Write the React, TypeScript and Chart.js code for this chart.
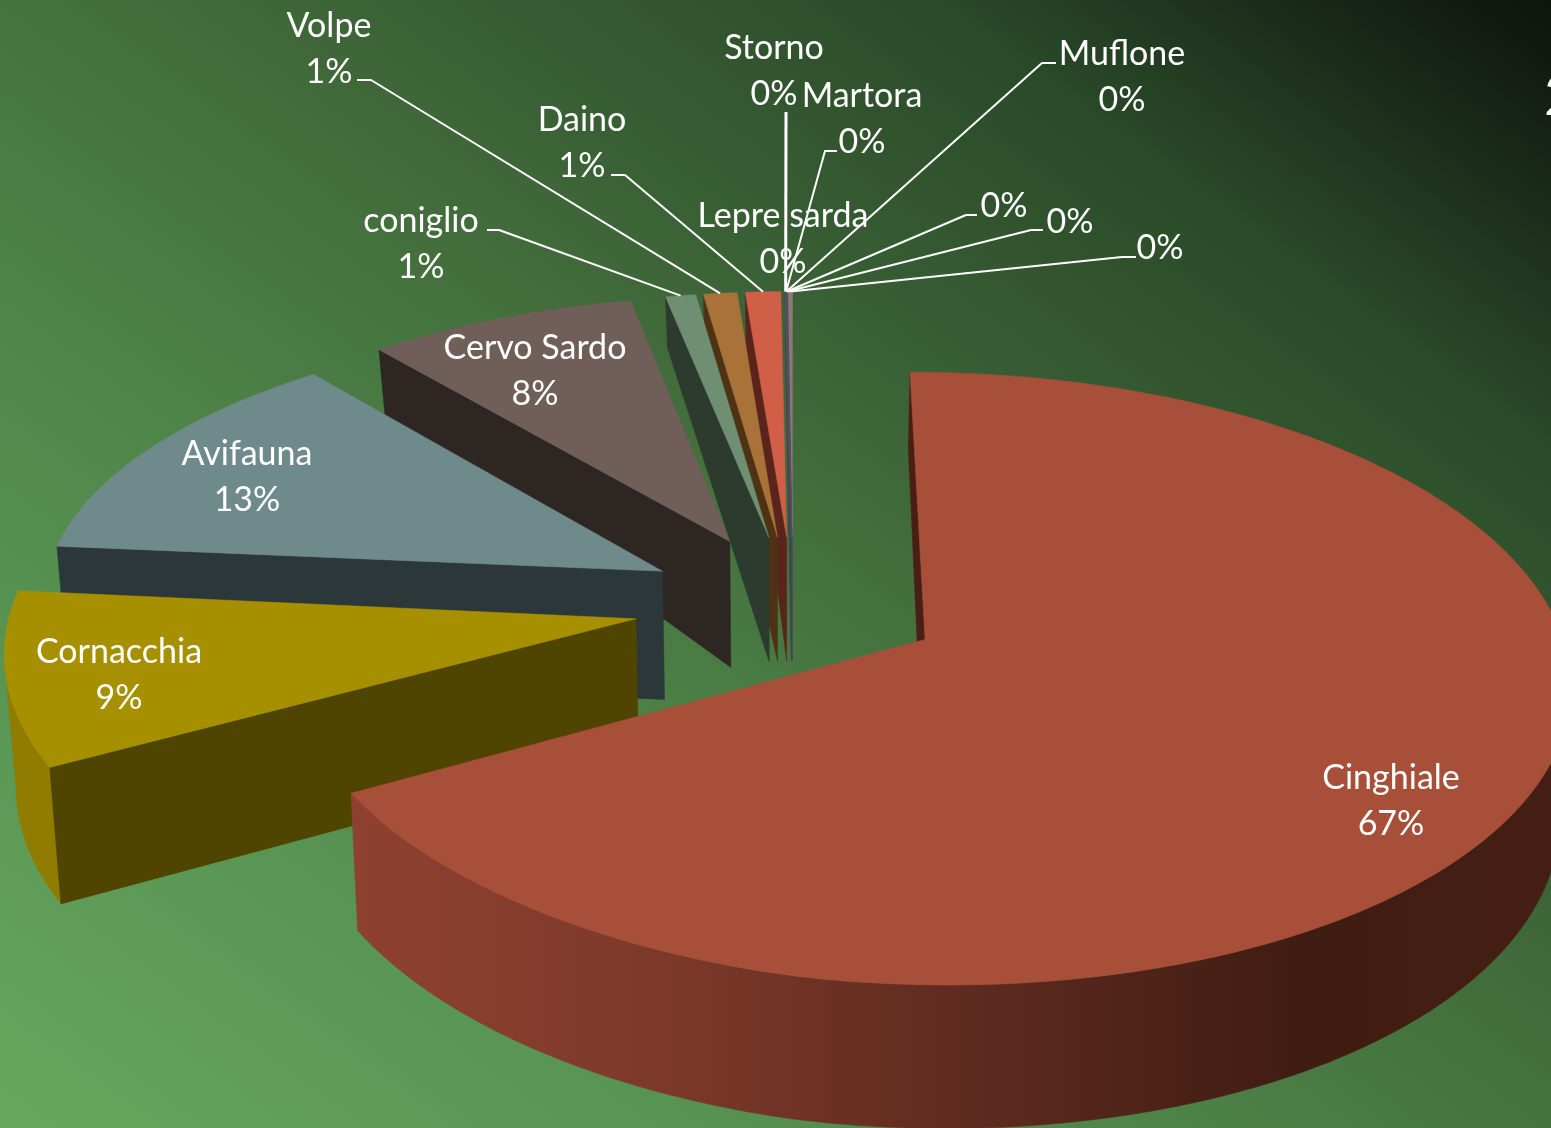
import React, { useEffect, useRef } from "react";
import { Chart, registerables } from "chart.js";

Chart.register(...registerables);

const names = ["Cinghiale", "Cornacchia", "Avifauna", "Cervo Sardo", "coniglio", "Volpe", "Daino", "Lepre sarda", "Storno", "Martora", "Muflone", "", "", ""];
const values = [66.6, 9.3, 13, 8, 0.9, 1.0, 1.05, 0.01, 0.01, 0.01, 0.01, 0.01, 0.01, 0.13];
const explosions = [0.24, 0.257, 0.237, 0.24, 0.237, 0.237, 0.237, 0.237, 0.237, 0.237, 0.237, 0.237, 0.237, 0.237];
const topColors = ["#A84F39", "#A69000", "#6F8A8B", "#6F5F58", "#6E8F72", "#A87238", "#CF5F47", "#556", "#556", "#556", "#556", "#556", "#556", "#8A7A72"];
const faceColors = ["#4A1E14", "#4F4400", "#2C373A", "#2D2622", "#2D3A2E", "#4D3314", "#5A241C", "#445", "#445", "#445", "#445", "#445", "#445", "#47584C"];
const wallStops: [number, string][][] = [
  [[0, "#8F4131"], [0.25, "#7C392A"], [0.55, "#5A281D"], [0.78, "#3F1C12"], [1, "#451F14"]],
  [[0, "#8F7C00"], [1, "#8F7C00"]],
];

// label layout: centre x, first-line centre y; leader is a list of fixed elbow points
const labelLayout: { x: number; y: number; elbow?: [number, number][]; w?: number }[] = [
  { x: 1391, y: 778 },
  { x: 119, y: 652 },
  { x: 247, y: 454 },
  { x: 535, y: 348 },
  { x: 421, y: 221, elbow: [[487, 230], [499, 230]] },
  { x: 329, y: 26, elbow: [[357, 80], [371, 80]] },
  { x: 582, y: 120, elbow: [[611, 175], [625, 175]] },
  { x: 783, y: 216 },
  { x: 774, y: 48, elbow: [[786, 112]], w: 3 },
  { x: 862, y: 96, elbow: [[837, 151], [825, 151]] },
  { x: 1122, y: 54, elbow: [[1056, 63], [1042, 63]] },
  { x: 1004, y: 206, elbow: [[977, 215], [966, 215]] },
  { x: 1070, y: 222, elbow: [[1043, 230], [1031, 230]] },
  { x: 1160, y: 248, elbow: [[1136, 257], [1122, 257]] },
];
const FONT = '34px Lato, "Open Sans", sans-serif';
const LINE_GAP = 46;

// projection of the pie plane
const CX = 793, CY = 604, BX = 624, AY = 292, PERSP = 0.126, SKEW = 0.005, ROLL = 12;

const depth = (wy: number) => (wy >= -0.2 ? 127 + (wy + 0.2) * 12.5 : Math.max(40, 127 + (wy + 0.2) * 75));
const project = (wx: number, wy: number, low: boolean): [number, number] => {
  const s = 1 / (1 - PERSP * wy - SKEW * wx);
  let x = CX + BX * wx * s;
  let y = CY + AY * wy * s + ROLL * Math.min(wx, 0) * Math.max(0, Math.min(1, 1 + wy));
  if (low) {
    y += depth(wy);
    x = CX + (x - CX) * 0.985;
  }
  return [x, y];
};

function poly(ctx: CanvasRenderingContext2D, pts: [number, number][], fill: string | CanvasGradient) {
  ctx.beginPath();
  pts.forEach((p, i) => (i ? ctx.lineTo(p[0], p[1]) : ctx.moveTo(p[0], p[1])));
  ctx.closePath();
  ctx.fillStyle = fill;
  ctx.strokeStyle = fill;
  ctx.lineWidth = 0.5;
  ctx.fill();
  ctx.stroke();
}

function sliceGeom(arc: any, i: number) {
  const a0 = arc.startAngle + Math.PI / 2;
  const a1 = arc.endAngle + Math.PI / 2;
  const mid = (a0 + a1) / 2;
  const ox = Math.sin(mid) * explosions[i];
  const oy = -Math.cos(mid) * explosions[i];
  const at = (a: number): [number, number] => [ox + Math.sin(a), oy - Math.cos(a)];
  return { a0, a1, mid, ox, oy, at };
}

const pie3d = {
  id: "pie3d",
  beforeDraw(chart: any) {
    const { ctx, width: W, height: H } = chart;
    const len = Math.hypot(W, H);
    const L = (W * H) / len;
    const dx = (H / len) * L;
    const dy = (-W / len) * L;
    const g = ctx.createLinearGradient(W / 2 - dx, H / 2 - dy, W / 2 + dx, H / 2 + dy);
    g.addColorStop(0, "#65A75B");
    g.addColorStop(0.13, "#5E9C58");
    g.addColorStop(0.35, "#4F874A");
    g.addColorStop(0.55, "#426C3B");
    g.addColorStop(0.63, "#3A6035");
    g.addColorStop(0.8, "#2A4A28");
    g.addColorStop(0.95, "#152015");
    g.addColorStop(1, "#0D140C");
    ctx.fillStyle = g;
    ctx.fillRect(0, 0, W, H);
  },
  beforeDatasetDraw(chart: any) {
    const { ctx } = chart;
    const arcs = chart.getDatasetMeta(0).data;
    const view = 1 / PERSP;
    for (let i = arcs.length - 1; i >= 0; i--) {
      const { a0, a1, ox, oy, at } = sliceGeom(arcs[i], i);
      const steps = Math.max(2, Math.ceil((a1 - a0) / 0.01));
      const rim: [number, number][] = [];
      for (let k = 0; k <= steps; k++) {
        const a = a0 + ((a1 - a0) * k) / steps;
        rim.push(at(a));
      }
      // outer wall, only the part turned towards the viewer
      const visible: number[] = [];
      for (let k = 0; k <= steps; k++) {
        const a = a0 + ((a1 - a0) * k) / steps;
        const [wx, wy] = rim[k];
        const d = Math.sin(a) * (0 - wx) + -Math.cos(a) * (view - wy);
        if (d > 0) visible.push(k);
      }
      if (visible.length > 1) {
        const top = visible.map((k) => project(rim[k][0], rim[k][1], false));
        const low = visible.map((k) => project(rim[k][0], rim[k][1], true));
        let fill: string | CanvasGradient = topColors[i];
        const stops = wallStops[i];
        if (stops) {
          const xs = top.map((p) => p[0]);
          const g = ctx.createLinearGradient(Math.min(...xs), 0, Math.max(...xs), 0);
          stops.forEach(([t, c]) => g.addColorStop(t, c));
          fill = g;
        }
        poly(ctx, [...top, ...low.reverse()], fill);
      }
      // cut faces
      const apexT = project(ox, oy, false);
      const apexB = project(ox, oy, true);
      [
        { a: a0, nx: -Math.cos(a0), ny: -Math.sin(a0) },
        { a: a1, nx: Math.cos(a1), ny: Math.sin(a1) },
      ].forEach(({ a, nx, ny }) => {
        const d = nx * (0 - ox) + ny * (view - oy);
        if (d <= 0) return;
        const [wx, wy] = at(a);
        poly(ctx, [apexT, project(wx, wy, false), project(wx, wy, true), apexB], faceColors[i]);
      });
      // top surface
      poly(ctx, [apexT, ...rim.map((p) => project(p[0], p[1], false))], topColors[i]);
    }
    return false;
  },
  afterDatasetsDraw(chart: any) {
    const { ctx } = chart;
    const arcs = chart.getDatasetMeta(0).data;
    const total = values.reduce((a, b) => a + b, 0);
    ctx.save();
    ctx.strokeStyle = "#FFFFFF";
    ctx.lineJoin = "round";
    labelLayout.forEach((l, i) => {
      if (!l.elbow) return;
      const { mid, at } = sliceGeom(arcs[i], i);
      const [wx, wy] = at(mid);
      const end = project(wx, wy, false);
      ctx.beginPath();
      ctx.lineWidth = l.w ?? 2;
      l.elbow.forEach((p, k) => (k ? ctx.lineTo(p[0], p[1]) : ctx.moveTo(p[0], p[1])));
      ctx.lineTo(end[0], end[1]);
      ctx.stroke();
    });
    ctx.fillStyle = "#FFFFFF";
    ctx.font = FONT;
    ctx.textAlign = "center";
    ctx.textBaseline = "middle";
    labelLayout.forEach((l, i) => {
      const pct = Math.round((values[i] / total) * 100) + "%";
      if (names[i]) {
        ctx.fillText(names[i], l.x, l.y);
        ctx.fillText(pct, l.x, l.y + LINE_GAP);
      } else {
        ctx.fillText(pct, l.x, l.y);
      }
    });
    ctx.font = '56px Lato, "Open Sans", sans-serif';
    ctx.textAlign = "left";
    ctx.textBaseline = "alphabetic";
    ctx.fillText("2", 1544, 115);
    ctx.restore();
  },
};

export default function App() {
  const ref = useRef<HTMLCanvasElement>(null);
  useEffect(() => {
    document.body.style.margin = "0";
    const chart = new Chart(ref.current!, {
      type: "pie",
      data: { labels: names, datasets: [{ data: values, backgroundColor: topColors, borderWidth: 0 }] },
      options: {
        animation: false,
        responsive: false,
        rotation: 0,
        plugins: { legend: { display: false }, tooltip: { enabled: false }, title: { display: false } },
      },
      plugins: [pie3d],
    } as any);
    return () => chart.destroy();
  }, []);
  return <canvas ref={ref} width={1551} height={1128} style={{ display: "block" }} />;
}
